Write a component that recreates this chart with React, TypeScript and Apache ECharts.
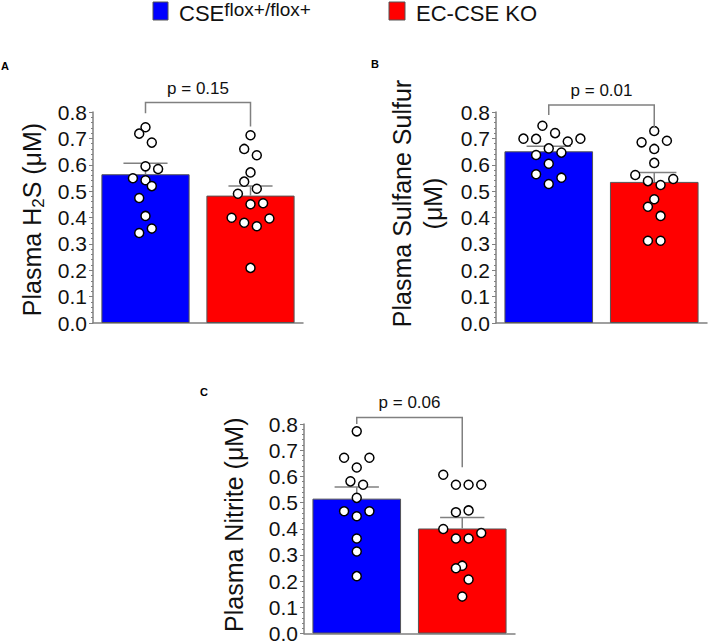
import React, { useEffect, useRef } from "react";
import * as echarts from "echarts";

const FONT = "'Liberation Sans', Arial, Helvetica, sans-serif";

const groups = ["CSE flox+/flox+", "EC-CSE KO"];
const groupColors = ["#0000FF", "#FF0000"];

// Panel A: Plasma H2S (µM)
const h2sCtrl = [0.742, 0.718, 0.684, 0.594, 0.584, 0.549, 0.541, 0.519, 0.474, 0.406, 0.358, 0.341];
const h2sCtrlCol = [0, -1, 1, 0, 2, -2, 0, 1, -1, 0, 1, -1];
const h2sKo = [0.712, 0.66, 0.636, 0.571, 0.536, 0.509, 0.49, 0.45, 0.454, 0.399, 0.396, 0.38, 0.367, 0.209];
const h2sKoCol = [0, -1, 1, 0, -1, 1, -2, 0, 2, -3, 3, -1, 1, 0];
const h2sMean = [0.564, 0.483];
const h2sSem = [0.042, 0.036];
const h2sP = "p = 0.15";

// Panel B: Plasma Sulfane Sulfur (µM)
const ssCtrl = [0.748, 0.72, 0.699, 0.698, 0.688, 0.699, 0.662, 0.637, 0.646, 0.604, 0.564, 0.551, 0.527];
const ssCtrlCol = [-1, 1, -4, -2, 3, 5, 0, -2, 2, 0, -2, 2, 0];
const ssKo = [0.728, 0.685, 0.691, 0.66, 0.607, 0.561, 0.538, 0.546, 0.523, 0.469, 0.441, 0.406, 0.312, 0.312];
const ssKoCol = [0, -2, 2, 0, 0, -3, -1, 3, 1, 0, -1, 1, -1, 1];
const ssMean = [0.651, 0.535];
const ssSem = [0.019, 0.036];
const ssP = "p = 0.01";

// Panel C: Plasma Nitrite (µM)
const noCtrl = [0.772, 0.671, 0.671, 0.634, 0.581, 0.568, 0.518, 0.467, 0.467, 0.448, 0.363, 0.313, 0.219];
const noCtrlCol = [0, -2, 2, 0, -1, 1, 0, -2, 2, 0, 0, 0, 0];
const noKo = [0.606, 0.568, 0.568, 0.568, 0.463, 0.47, 0.399, 0.363, 0.363, 0.384, 0.259, 0.249, 0.206, 0.141];
const noKoCol = [-3, -1, 1, 3, -1, 1, -3, -1, 1, 3, 0, -1, 1, 0];
const noMean = [0.515, 0.401];
const noSem = [0.044, 0.042];
const noP = "p = 0.06";

// bracket: [top, left leg bottom, right leg bottom] in axis units
const h2sBracket = [0.836, 0.795, 0.745];
const ssBracket = [0.827, 0.789, 0.739];
const noBracket = [0.825, 0.8, 0.635];

const GRAY = "#808080";

type Panel = {
  grid: { left: number; top: number; width: number; height: number };
  name: string;
  nameGap: number;
  namePad: number[];
  ctrl: number[];
  ctrlCol: number[];
  ko: number[];
  koCol: number[];
  mean: number[];
  sem: number[];
  p: string;
  bracket: number[];
};

const panels: Panel[] = [
  {
    grid: { left: 93, top: 112, width: 210, height: 211 },
    name: "{t|Plasma H}{sub|2}{t|S (μM)}",
    nameGap: 46,
    namePad: [0, 4, 0, 0],
    ctrl: h2sCtrl, ctrlCol: h2sCtrlCol, ko: h2sKo, koCol: h2sKoCol,
    mean: h2sMean, sem: h2sSem, p: h2sP, bracket: h2sBracket,
  },
  {
    grid: { left: 496, top: 112, width: 211, height: 211 },
    name: "{t|Plasma Sulfane Sulfur}\n{t|(μM)}",
    nameGap: 48,
    namePad: [0, 0, 0, 28],
    ctrl: ssCtrl, ctrlCol: ssCtrlCol, ko: ssKo, koCol: ssKoCol,
    mean: ssMean, sem: ssSem, p: ssP, bracket: ssBracket,
  },
  {
    grid: { left: 304, top: 424, width: 211, height: 211 },
    name: "{t|Plasma Nitrite (μM)}",
    nameGap: 55,
    namePad: [0, 0, 0, 8],
    ctrl: noCtrl, ctrlCol: noCtrlCol, ko: noKo, koCol: noKoCol,
    mean: noMean, sem: noSem, p: noP, bracket: noBracket,
  },
];

const SLOT = 0.06;

function buildOption() {
  const grid: any[] = [];
  const xAxis: any[] = [];
  const yAxis: any[] = [];
  const series: any[] = [];

  panels.forEach((pn, i) => {
    grid.push({ ...pn.grid, containLabel: false });
    xAxis.push({
      type: "category",
      gridIndex: i,
      data: groups,
      axisLine: { show: true, lineStyle: { color: GRAY, width: 1.5 } },
      axisTick: { show: false },
      axisLabel: { show: false },
    });
    xAxis.push({ type: "value", gridIndex: i, min: 0, max: 2, show: false });
    yAxis.push({
      type: "value",
      gridIndex: i,
      min: 0,
      max: 0.8,
      interval: 0.1,
      axisLine: { show: true, lineStyle: { color: GRAY, width: 1.5 } },
      axisTick: { show: true, length: 4, lineStyle: { color: GRAY, width: 1 } },
      minorTick: { show: true, splitNumber: 5, length: 2, lineStyle: { color: GRAY, width: 1 } },
      splitLine: { show: false },
      axisLabel: {
        fontSize: 21,
        color: "#111",
        fontFamily: FONT,
        margin: 6,
        formatter: (v: number) => v.toFixed(1),
      },
      name: pn.name,
      nameLocation: "middle",
      nameRotate: 90,
      nameGap: pn.nameGap,
      nameTextStyle: {
        fontFamily: FONT,
        color: "#111",
        padding: pn.namePad,
        rich: {
          t: { fontSize: 25, fontFamily: FONT, color: "#111", lineHeight: 31 },
          sub: { fontSize: 17, fontFamily: FONT, color: "#111", lineHeight: 16, verticalAlign: "bottom" },
        },
      },
    });

    const catX = 2 * i;
    const valX = 2 * i + 1;

    series.push({
      type: "bar",
      xAxisIndex: catX,
      yAxisIndex: i,
      barWidth: "84%",
      z: 2,
      data: pn.mean.map((m, k) => ({
        value: m,
        itemStyle: { color: groupColors[k], borderColor: "#555", borderWidth: 1 },
      })),
    });

    series.push({
      type: "custom",
      xAxisIndex: valX,
      yAxisIndex: i,
      z: 3,
      data: pn.mean.map((m, k) => [k + 0.5, m, pn.sem[k]]),
      renderItem: (params: any, api: any) => {
        const x = api.value(0);
        const m = api.value(1);
        const s = api.value(2);
        const base = api.coord([x, m]);
        const top = api.coord([x, m + s]);
        const hw = api.size([0.21, 0])[0];
        return {
          type: "group",
          children: [
            { type: "line", shape: { x1: base[0], y1: base[1], x2: top[0], y2: top[1] }, style: { stroke: GRAY, lineWidth: 1.5 } },
            { type: "line", shape: { x1: top[0] - hw, y1: top[1], x2: top[0] + hw, y2: top[1] }, style: { stroke: GRAY, lineWidth: 1.5 } },
          ],
        };
      },
    });

    const dots = [
      ...pn.ctrl.map((v, k) => [0.5 + pn.ctrlCol[k] * SLOT, v]),
      ...pn.ko.map((v, k) => [1.5 + pn.koCol[k] * SLOT, v]),
    ];
    series.push({
      type: "scatter",
      xAxisIndex: valX,
      yAxisIndex: i,
      z: 4,
      symbol: "circle",
      symbolSize: 9,
      itemStyle: { color: "#fff", borderColor: "#000", borderWidth: 1.5, opacity: 1 },
      data: dots,
    });

    const pLabel = pn.p;
    series.push({
      type: "custom",
      xAxisIndex: valX,
      yAxisIndex: i,
      z: 5,
      clip: false,
      data: [[0.5, 1.5, pn.bracket[0], pn.bracket[1], pn.bracket[2]]],
      renderItem: (params: any, api: any) => {
        const l = api.coord([api.value(0), api.value(2)]);
        const r = api.coord([api.value(1), api.value(2)]);
        const lb = api.coord([api.value(0), api.value(3)]);
        const rb = api.coord([api.value(1), api.value(4)]);
        return {
          type: "group",
          children: [
            {
              type: "polyline",
              shape: { points: [[lb[0], lb[1]], [l[0], l[1]], [r[0], r[1]], [rb[0], rb[1]]] },
              style: { stroke: GRAY, lineWidth: 1.5, fill: "none" },
            },
            {
              type: "text",
              x: (l[0] + r[0]) / 2,
              y: l[1] - 6,
              style: {
                text: pLabel,
                fontSize: 17,
                fontFamily: FONT,
                fill: "#111",
                align: "center",
                verticalAlign: "bottom",
              },
            },
          ],
        };
      },
    });
  });

  const graphic: any[] = [
    { type: "rect", shape: { x: 153, y: 2, width: 15, height: 18 }, style: { fill: "#0000FF", stroke: "#555", lineWidth: 1 } },
    {
      type: "text",
      x: 179,
      y: 13,
      style: {
        text: "{m|CSE}{s|flox+/flox+}",
        verticalAlign: "middle",
        rich: {
          m: { fontSize: 22, fontFamily: FONT, fill: "#111", lineHeight: 26 },
          s: { fontSize: 19, fontFamily: FONT, fill: "#111", lineHeight: 18, verticalAlign: "top" },
        },
      },
    },
    { type: "rect", shape: { x: 389, y: 2, width: 16, height: 18 }, style: { fill: "#FF0000", stroke: "#555", lineWidth: 1 } },
    {
      type: "text",
      x: 416,
      y: 13,
      style: { text: "EC-CSE KO", fontSize: 22, fontFamily: FONT, fill: "#111", verticalAlign: "middle" },
    },
    { type: "text", x: 1, y: 60, style: { text: "A", fontSize: 11, fontWeight: "bold", fontFamily: FONT, fill: "#000" } },
    { type: "text", x: 371, y: 58, style: { text: "B", fontSize: 11, fontWeight: "bold", fontFamily: FONT, fill: "#000" } },
    { type: "text", x: 200, y: 386, style: { text: "C", fontSize: 11, fontWeight: "bold", fontFamily: FONT, fill: "#000" } },
  ];

  return {
    animation: false,
    backgroundColor: "#fff",
    grid,
    xAxis,
    yAxis,
    series,
    graphic,
  };
}

export default function App() {
  const ref = useRef<HTMLDivElement>(null);
  useEffect(() => {
    if (!ref.current) return;
    const chart = echarts.init(ref.current, undefined, { renderer: "svg" });
    chart.setOption(buildOption() as any);
    return () => chart.dispose();
  }, []);
  return (
    <div
      ref={ref}
      style={{ position: "fixed", left: 0, top: 0, width: 709, height: 644, background: "#fff" }}
    />
  );
}
